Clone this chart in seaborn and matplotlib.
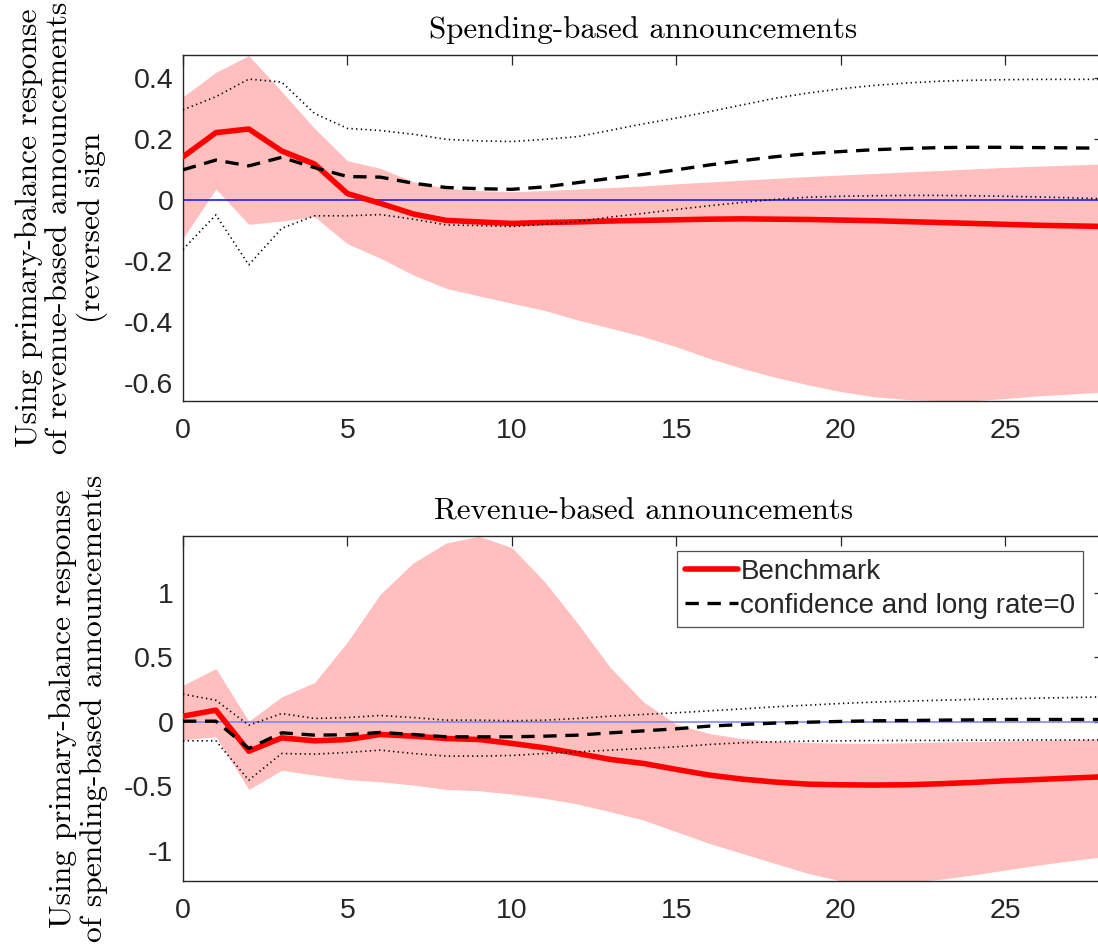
import numpy as np
import pandas as pd
import matplotlib
matplotlib.use("Agg")
import matplotlib.pyplot as plt
import seaborn as sns

# Horizon (quarters)
horizon = list(range(29))

# Spending-based announcements
bench_spend = [0.143, 0.222, 0.234, 0.162, 0.119, 0.022, -0.010, -0.045, -0.066, -0.071,
               -0.076, -0.073, -0.071, -0.068, -0.066, -0.064, -0.062, -0.061, -0.062, -0.063,
               -0.065, -0.067, -0.070, -0.073, -0.076, -0.079, -0.082, -0.084, -0.086]
bench_spend_hi = [0.340, 0.420, 0.475, 0.357, 0.236, 0.130, 0.105, 0.061, 0.039, 0.032,
                  0.028, 0.032, 0.037, 0.042, 0.047, 0.054, 0.060, 0.066, 0.072, 0.078,
                  0.083, 0.088, 0.093, 0.098, 0.103, 0.108, 0.112, 0.116, 0.119]
bench_spend_lo = [-0.125, 0.037, -0.079, -0.068, -0.054, -0.143, -0.190, -0.245, -0.289, -0.314,
                  -0.338, -0.362, -0.393, -0.420, -0.448, -0.481, -0.519, -0.552, -0.581, -0.606,
                  -0.628, -0.645, -0.654, -0.658, -0.658, -0.651, -0.642, -0.636, -0.629]
alt_spend = [0.100, 0.132, 0.113, 0.141, 0.107, 0.078, 0.076, 0.056, 0.042, 0.038,
             0.036, 0.044, 0.058, 0.072, 0.085, 0.100, 0.116, 0.130, 0.143, 0.153,
             0.160, 0.166, 0.170, 0.173, 0.174, 0.174, 0.173, 0.172, 0.171]
alt_spend_hi = [0.297, 0.340, 0.398, 0.388, 0.285, 0.236, 0.229, 0.217, 0.200, 0.195,
                0.193, 0.200, 0.209, 0.230, 0.251, 0.270, 0.291, 0.313, 0.335, 0.352,
                0.366, 0.377, 0.385, 0.391, 0.394, 0.396, 0.397, 0.397, 0.397]
alt_spend_lo = [-0.161, -0.048, -0.212, -0.092, -0.051, -0.051, -0.047, -0.062, -0.081, -0.083,
                -0.086, -0.079, -0.070, -0.055, -0.043, -0.030, -0.018, -0.007, 0.003, 0.010,
                0.013, 0.015, 0.016, 0.016, 0.015, 0.013, 0.011, 0.008, 0.005]

# Revenue-based announcements
bench_rev = [0.044, 0.090, -0.227, -0.124, -0.147, -0.137, -0.098, -0.111, -0.129, -0.137,
             -0.167, -0.201, -0.245, -0.291, -0.322, -0.368, -0.412, -0.443, -0.466, -0.482,
             -0.487, -0.489, -0.487, -0.479, -0.469, -0.456, -0.446, -0.435, -0.425]
bench_rev_hi = [0.283, 0.412, 0.005, 0.193, 0.304, 0.618, 0.987, 1.229, 1.383, 1.435,
                1.347, 1.082, 0.760, 0.417, 0.155, -0.020, -0.090, -0.130, -0.150, -0.160,
                -0.165, -0.167, -0.162, -0.157, -0.152, -0.147, -0.142, -0.137, -0.132]
bench_rev_lo = [-0.140, -0.115, -0.523, -0.375, -0.412, -0.446, -0.464, -0.489, -0.523, -0.533,
                -0.559, -0.592, -0.636, -0.696, -0.760, -0.850, -0.940, -1.018, -1.095, -1.172,
                -1.230, -1.245, -1.237, -1.219, -1.185, -1.146, -1.108, -1.074, -1.043]
alt_rev = [0.005, 0.005, -0.206, -0.085, -0.103, -0.100, -0.082, -0.098, -0.116, -0.116,
           -0.116, -0.111, -0.103, -0.085, -0.070, -0.054, -0.033, -0.021, -0.010, -0.003,
           0.003, 0.008, 0.010, 0.013, 0.015, 0.018, 0.018, 0.018, 0.018]
alt_rev_hi = [0.214, 0.167, -0.026, 0.064, 0.026, 0.033, 0.049, 0.033, 0.013, 0.013,
              0.008, 0.013, 0.026, 0.044, 0.057, 0.070, 0.085, 0.100, 0.116, 0.129,
              0.142, 0.152, 0.160, 0.167, 0.173, 0.178, 0.183, 0.188, 0.193]
alt_rev_lo = [-0.147, -0.147, -0.451, -0.245, -0.250, -0.237, -0.219, -0.245, -0.265, -0.265,
              -0.260, -0.245, -0.232, -0.219, -0.206, -0.193, -0.175, -0.162, -0.155, -0.149,
              -0.147, -0.145, -0.144, -0.144, -0.142, -0.142, -0.140, -0.140, -0.140]

x_ticks = [0, 5, 10, 15, 20, 25]
spend_yticks = [-0.6, -0.4, -0.2, 0, 0.2, 0.4]
spend_yticklabels = ["-0.6", "-0.4", "-0.2", "0", "0.2", "0.4"]
rev_yticks = [-1, -0.5, 0, 0.5, 1]
rev_yticklabels = ["-1", "-0.5", "0", "0.5", "1"]

titles = ["Spending-based announcements", "Revenue-based announcements"]
ylabels = ["Using primary-balance response\nof revenue-based announcements\n(reversed sign",
           "Using primary-balance response\nof spending-based announcements"]
legend_labels = ["Benchmark", "confidence and long rate=0"]

sns.set_theme(style="white")
plt.rcParams["font.family"] = ["Liberation Sans", "DejaVu Sans"]
plt.rcParams["axes.unicode_minus"] = False

SERIF = ["cmr10", "DejaVu Serif"]
INK = "#262626"
BAND = "#FFBFBF"

fig = plt.figure(figsize=(10.98, 9.49), dpi=100)
W, H = 1098, 949
ax_left, ax_right = 183, 1104
boxes = [(55, 401), (536, 881)]
axes = []
for top, bot in boxes:
    axes.append(fig.add_axes([ax_left / W, (H - bot) / H, (ax_right - ax_left) / W, (bot - top) / H]))

panels = [
    dict(b=bench_spend, bh=bench_spend_hi, bl=bench_spend_lo, a=alt_spend, ah=alt_spend_hi,
         al=alt_spend_lo, ylim=(-0.659, 0.477), yt=spend_yticks, ytl=spend_yticklabels,
         zero="#2a2aff", zlw=1.3),
    dict(b=bench_rev, bh=bench_rev_hi, bl=bench_rev_lo, a=alt_rev, ah=alt_rev_hi,
         al=alt_rev_lo, ylim=(-1.231, 1.437), yt=rev_yticks, ytl=rev_yticklabels,
         zero="#7a7aff", zlw=1.1),
]

for i, (ax, p) in enumerate(zip(axes, panels)):
    df = pd.DataFrame({"h": horizon, "bench": p["b"], "alt": p["a"],
                       "alt_hi": p["ah"], "alt_lo": p["al"]})
    ax.fill_between(horizon, p["bl"], p["bh"], color=BAND, linewidth=0, zorder=1)
    ax.axhline(0, color=p["zero"], lw=p["zlw"], zorder=2)
    sns.lineplot(data=df, x="h", y="bench", ax=ax, color="#FF0000", lw=4.0,
                 label=legend_labels[0], zorder=3)
    sns.lineplot(data=df, x="h", y="alt", ax=ax, color="black", lw=2.4,
                 label=legend_labels[1], zorder=4)
    ax.lines[-1].set_dashes((4, 2.6))
    for col in ("alt_hi", "alt_lo"):
        sns.lineplot(data=df, x="h", y=col, ax=ax, color="black", lw=1.2, zorder=5)
        ax.lines[-1].set_dashes((0.8, 2.0))

    ax.set_xlim(0, 28)
    ax.set_ylim(*p["ylim"])
    ax.set_xticks(x_ticks)
    ax.set_xticklabels([str(t) for t in x_ticks])
    ax.set_yticks(p["yt"])
    ax.set_yticklabels(p["ytl"])
    ax.tick_params(direction="in", length=7.5, width=0.9, colors=INK, labelsize=20.5,
                   top=True, right=True, labelcolor=INK)
    ax.tick_params(axis="x", pad=12)
    ax.tick_params(axis="y", pad=7)
    for s in ax.spines.values():
        s.set_visible(True)
        s.set_color(INK)
        s.set_linewidth(1.0)
    ax.set_xlabel("")
    ax.set_title(titles[i], family=SERIF, fontsize=22.3, color="black", pad=12)
    ax.set_ylabel(ylabels[i], family=SERIF, fontsize=22.7, color="black", linespacing=1.15)
    ax.yaxis.set_label_coords((108 - ax_left) / (ax_right - ax_left), 0.5)

    if i == 1:
        handles, labels = ax.get_legend_handles_labels()
        leg = ax.legend(handles[:2], labels[:2], loc="upper left",
                        bbox_to_anchor=((677 - ax_left) / (ax_right - ax_left), (881 - 551) / (881 - 536)),
                        fontsize=20, frameon=True, fancybox=False, edgecolor=INK,
                        handlelength=1.9, handletextpad=0.1, borderpad=0.28, labelspacing=0.3,
                        borderaxespad=0)
        leg.get_frame().set_linewidth(0.9)
    else:
        ax.get_legend().remove()

fig.savefig("out.png", dpi=100)
